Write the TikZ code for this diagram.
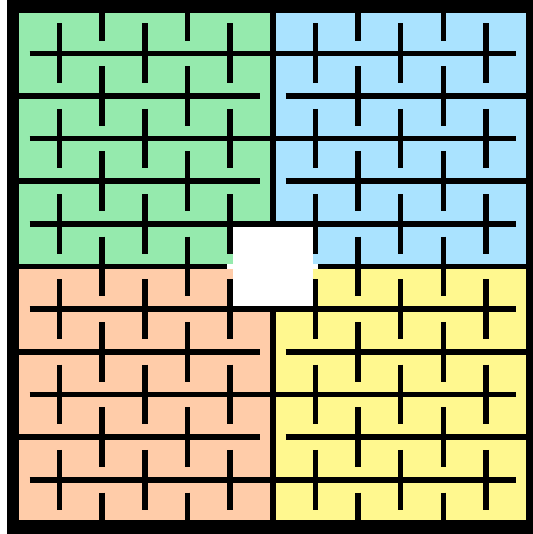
\documentclass[tikz,border=0pt]{standalone}
\usepackage{tikz}
\usepackage{xcolor}
\definecolor{qGreen}{HTML}{95EAAD}
\definecolor{qBlue}{HTML}{AAE3FF}
\definecolor{qPeach}{HTML}{FFCCA9}
\definecolor{qYellow}{HTML}{FFF88F}
\tikzset{
  wall/.style={line width=0.13cm,draw=black},
}
\begin{document}
\begin{tikzpicture}[x=1cm,y=-1cm]
  \useasboundingbox (-0.395,-0.25) rectangle (12.102,12.271);
  % frame and quadrants
  \fill[black] (-0.231,-0.25) rectangle (12.102,12.271);
  \fill[white] (0.062,0.062) rectangle (11.938,11.938);
  \fill[qGreen] (0.062,0.062) rectangle (5.938,5.938);
  \fill[qBlue] (6.062,0.062) rectangle (11.938,5.938);
  \fill[qPeach] (0.062,6.062) rectangle (5.938,11.938);
  \fill[qYellow] (6.062,6.062) rectangle (11.938,11.938);
  \fill[white] (5.06,5.06) rectangle (6.94,6.94);
  % rows
  \foreach \r in {1,3,...,11}
    \draw[wall] (0.3,\r) -- (11.7,\r);
  \foreach \r in {2,4,8,10} {
    \draw[wall] (0,\r) -- (5.7,\r);
    \draw[wall] (6.3,\r) -- (12,\r);
  }
  \draw[wall] (0,6) -- (4.93,6);
  \draw[wall] (7.07,6) -- (12,6);
  % middle divider
  \draw[wall] (6,0) -- (6,5);
  \draw[wall] (6,7) -- (6,12);
  % posts
  \foreach \c in {1,3,...,11}
    \foreach \r in {1,3,...,11}
      \draw[wall] (\c,\r-0.7) -- (\c,\r+0.7);
  \foreach \c in {2,4,8,10} {
    \draw[wall] (\c,0) -- (\c,0.7);
    \foreach \r in {2,4,...,10}
      \draw[wall] (\c,\r-0.7) -- (\c,\r+0.7);
    \draw[wall] (\c,11.3) -- (\c,12);
  }
\end{tikzpicture}
\end{document}
